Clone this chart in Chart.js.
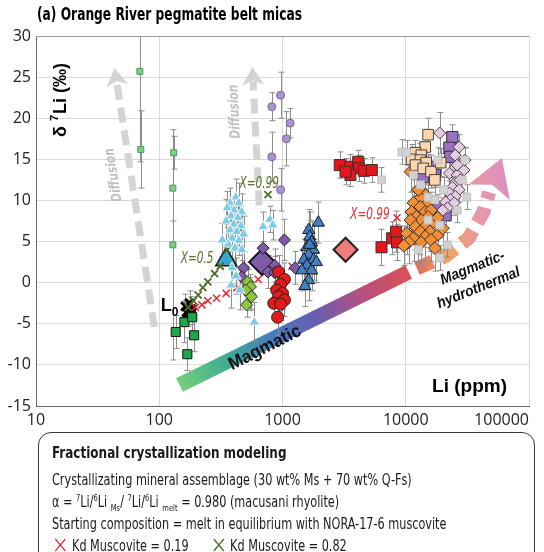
<!DOCTYPE html>
<html>
<head>
<meta charset="utf-8">
<script src="https://cdn.jsdelivr.net/npm/chart.js@4.4.1/dist/chart.umd.min.js"></script>
<style>
html, body { margin: 0; padding: 0; background: #fff; overflow: hidden; }
#wrap { position: relative; width: 544px; height: 552px; overflow: hidden; }
#note {
  position: absolute; left: 38px; top: 432px; width: 497px; height: 140px;
  border: 1.5px solid #3a3a3a; border-radius: 13px; box-sizing: border-box;
  padding: 8px 0 0 13px; color: #1a1a1a; overflow: hidden;
  font-family: 'DejaVu Sans Condensed', 'Liberation Sans', sans-serif; font-size: 15px;
}
#note .txt { width: 600px; transform: scaleX(0.834); transform-origin: 0 0; }
#note .txt div { line-height: 22px; white-space: nowrap; }
#note .hd { font-weight: bold; font-size: 16px; line-height: 24px !important; margin-bottom: 4px; }
#note sup, #note sub { font-size: 9px; line-height: 0; }
#note svg { vertical-align: -1px; margin: 0 7px 0 3px; }
</style>
</head>
<body>
<div id="wrap">
  <canvas id="micaChart" width="544" height="552"></canvas>
  <div id="note">
    <div class="txt">
      <div class="hd">Fractional crystallization modeling</div>
      <div>Crystallizating mineral assemblage (30 wt% Ms + 70 wt% Q-Fs)</div>
      <div>α = <sup>7</sup>Li/<sup>6</sup>Li <sub>Ms</sub>/ <sup>7</sup>Li/<sup>6</sup>Li <sub>melt</sub> = 0.980 (macusani rhyolite)</div>
      <div>Starting composition = melt in equilibrium with NORA-17-6 muscovite</div>
      <div><svg width="14" height="14"><path d="M1 1L13 13M13 1L1 13" stroke="#e8262b" stroke-width="1.4"/></svg>Kd Muscovite = 0.19 &nbsp;&nbsp;&nbsp;&nbsp;&nbsp;<svg width="14" height="14"><path d="M1 1L13 13M13 1L1 13" stroke="#4f6b2a" stroke-width="1.7"/></svg>Kd Muscovite = 0.82</div>
    </div>
  </div>
</div>
<script>
// Axis ticks
const xTicks = [10, 100, 1000, 10000, 100000];
const yTicks = [-15, -10, -5, 0, 5, 10, 15, 20, 25, 30];

// Li (ppm), d7Li (permil) and 1-sigma error for each group of micas
const paleGreenLi = [69.6, 70.9, 131, 129, 129];
const paleGreenD = [25.7, 16.2, 15.8, 11.5, 4.6];
const paleGreenErr = [11, 4.7, 2, 4, 14];

const greenSqLi = [136, 160, 192, 169, 185];
const greenSqD = [-6.0, -4.8, -6.4, -8.7, -4.2];
const greenSqErr = [2, 2.5, 2, 2, 2];

const startLi = [163, 182, 172, 185, 166, 176];
const startD = [-2.9, -3.2, -3.8, -3.6, -3.6, -2.5];
const startErr = [1.5, 1.5, 1.5, 1.5, 1.5, 1.5];

const cyanLi = [419, 376, 442, 356, 404, 467, 383, 434, 349, 404, 459, 376, 427, 484, 390, 442, 362, 411, 467, 390, 419, 383, 696, 790, 834, 591, 450, 325];
const cyanD = [10.4, 9.7, 9.7, 9.1, 8.8, 8.6, 8.1, 7.9, 7.5, 7.1, 6.9, 6.4, 6.2, 5.9, 5.4, 5.1, 4.7, 4.2, 4.0, 1.8, 0.8, -0.3, 6.8, 7.7, 7.0, -4.8, -0.9, 5.2];
const cyanErr = [2.2, 1.8, 2.4, 2, 1.6, 2.2, 2, 1.8, 2.6, 2, 2.4, 1.8, 2, 2.2, 2.6, 1.8, 2, 2.2, 2.4, 2, 2.2, 2.8, 1.8, 1.6, 1.8, 2.4, 2.4, 2];

const cyanBigLi = [349];
const cyanBigD = [2.8];

const lilacLi = [965, 819, 1156, 1075, 819, 965];
const lilacD = [22.8, 21.4, 19.4, 17.5, 15.3, 11.3];
const lilacErr = [2.8, 1.7, 1.8, 3.3, 3, 2.6];

const purpleDiaLi = [484, 467, 540, 1037, 696, 762, 865, 865, 1266];
const purpleDiaD = [1.8, 0.7, -1.4, 5.2, 4.2, 1.3, 2.1, 1.2, 1.8];
const purpleDiaErr = [2, 2, 2, 2.5, 2.5, 2, 2, 2, 2];

const purpleBigLi = [683];
const purpleBigD = [2.5];

const limeLi = [521, 550, 502, 511, 560];
const limeD = [0.1, -0.5, -0.9, -2.7, -1.7];
const limeErr = [1.5, 1.5, 1.5, 1.5, 1.5];

const redCircLi = [930, 1037, 965, 897, 1000, 930, 1037, 850, 965, 913];
const redCircD = [1.3, 0.4, -0.2, -0.9, -1.3, -1.7, -2.1, -2.5, -2.6, -4.2];
const redCircErr = [2, 2, 1.8, 2, 2, 1.8, 2, 2, 2, 2.2];

const blueLi = [1632, 1956, 1662, 1723, 1574, 1786, 1632, 1490, 1786, 1574, 1723, 1437, 1632, 1518, 1886, 1662];
const blueD = [6.4, 7.3, 5.6, 4.9, 4.3, 4.0, 3.4, 2.8, 2.8, 2.1, 1.5, 1.5, 0.3, -0.4, 2.5, 4.6];
const blueErr = [2.5, 2.5, 3, 2.5, 2.5, 3, 2.5, 2.5, 2.5, 3, 2.5, 2.5, 2.5, 2.5, 2.5, 3];

const salmonLi = [3250];
const salmonD = [4.0];

const redSqLi = [2915, 3558, 4114, 4188, 4586, 5302, 3558, 3250, 6356, 7758, 8343, 8496];
const redSqD = [14.3, 14.1, 14.7, 13.9, 13.6, 13.7, 13.1, 13.5, 4.3, 5.4, 6.2, 4.9];
const redSqErr = [1.6, 1.5, 1.4, 1.6, 1.5, 1.5, 1.4, 1.6, 2.2, 2, 2.5, 2.2];

const greySqLi = [9300, 10180, 18190, 30230, 28620, 31340, 15180, 13130, 15180, 18870, 17230, 20290, 11560, 21810, 18870, 6356, 26140, 12660];
const greySqD = [15.9, 15.8, 14.9, 14.9, 12.5, 10.4, 10.4, 11.9, 7.6, 7.0, 10.1, 11.3, 13.1, 4.6, 3.0, 12.5, 8.8, 4.0];
const greySqErr = [1.5, 1.5, 1.5, 1.5, 1.5, 1.5, 1.5, 1.5, 1.5, 1.5, 1.5, 1.5, 1.5, 1.5, 1.5, 1.5, 1.5, 1.5];

const peachLi = [15180, 14380, 11990, 13370, 11150, 13130, 14640, 11990, 13860, 16030, 19210, 17230];
const peachD = [18.0, 16.5, 15.8, 15.5, 15.0, 14.9, 14.6, 14.3, 13.9, 13.5, 14.6, 12.5];
const peachErr = [2, 1.8, 1.5, 1.6, 1.8, 2, 1.6, 1.5, 1.8, 2, 1.7, 1.9];

const violetSqLi = [23880, 22610, 23020, 15180, 13860, 17230, 18190, 21030];
const violetSqD = [17.7, 16.4, 15.3, 14.1, 12.9, 13.1, 9.2, 8.2];
const violetSqErr = [1.5, 1.5, 1.5, 1.5, 1.5, 1.5, 1.5, 1.5];

const pinkLi = [18870, 27110, 25210, 29680, 22610, 26140, 25210, 27600, 23880, 27110, 22610, 25210, 23020, 21030, 24760, 21810, 19920, 30230, 26140];
const pinkD = [18.2, 16.5, 15.5, 13.7, 13.3, 13.1, 12.2, 12.5, 11.6, 11.3, 10.9, 10.5, 10.1, 9.8, 9.7, 9.1, 8.8, 14.9, 14.3];
const pinkErr = [2.5, 1.5, 1.5, 1.5, 1.5, 1.5, 1.5, 1.5, 1.5, 1.5, 1.5, 1.5, 1.5, 1.5, 1.5, 1.5, 1.5, 1.5, 1.5];

const orangeLi = [10950, 14380, 13130, 11560, 15180, 13130, 11150, 14380, 16030, 12210, 15180, 13370, 10950, 16620, 11990, 14380, 10180, 13130, 15740, 18190, 11560, 14380, 13370, 10560, 16030, 17230, 9645, 12660, 18190, 19920];
const orangeD = [13.5, 10.7, 10.3, 9.7, 9.7, 9.2, 8.6, 8.6, 8.8, 8.0, 8.0, 7.6, 7.6, 7.3, 6.8, 6.8, 6.0, 6.2, 6.2, 5.8, 5.4, 5.6, 4.9, 4.9, 5.2, 4.2, 4.5, 11.3, 7.9, 6.6];
const orangeErr = [2.5, 2.2, 2.5, 2.8, 2.4, 2.6, 2.5, 2.8, 2.2, 2.6, 2.5, 2.8, 2.4, 2.6, 2.8, 2.5, 2.6, 2.8, 2.4, 2.6, 2.8, 3, 2.8, 2.6, 2.6, 2.8, 2.4, 2.2, 2.5, 2.6];

// Fractional crystallization model steps
const modelLowLi = [196, 222, 248, 292, 349, 427, 511, 636, 1199, 8496];
const modelLowD = [-3.0, -2.7, -2.2, -1.9, -1.3, -0.6, 0.0, 0.4, 2.0, 7.9];
const modelHighLi = [172, 189, 207, 226, 248, 281, 313, 356, 467, 762];
const modelHighD = [-3.0, -2.2, -1.5, -0.6, 0.1, 1.1, 2.0, 4.0, 6.3, 10.7];

// Trend arrows (Li, d7Li anchors)
const magmaticLi = [146, 10560];
const magmaticD = [-12.45, 1.3];
const hydroLi = [10560, 21030, 32500, 42650, 47560, 60200];
const hydroD = [1.3, 3.24, 5.43, 8.6, 11.0, 15.16];
const diffusionA = { li: [91.3, 43.4], d: [-5.4, 26.1] };
const diffusionB = { li: [647, 570], d: [9.4, 26.2] };

const COND = "'DejaVu Sans Condensed', 'Liberation Sans', sans-serif";
const SANS = "'Liberation Sans', Arial, sans-serif";

const pts = (li, d) => li.map((v, i) => ({ x: v, y: d[i] }));

function series(label, li, d, err, style) {
  return Object.assign({
    label, data: pts(li, d), errors: err, showLine: false,
    pointBorderWidth: 1, pointHoverRadius: 0
  }, style);
}

const datasets = [
  series('grey', greySqLi, greySqD, greySqErr, { pointStyle: 'rect', pointRadius: 5.5, pointBackgroundColor: '#d2d2d2', pointBorderColor: '#c2c2c2' }),
  series('paleGreen', paleGreenLi, paleGreenD, paleGreenErr, { pointStyle: 'rect', pointRadius: 4.2, pointBackgroundColor: '#7ccf86', pointBorderColor: '#4a9a55' }),
  series('lilac', lilacLi, lilacD, lilacErr, { pointStyle: 'circle', pointRadius: 4, pointBackgroundColor: '#a995cc', pointBorderColor: '#7b68a2' }),
  series('cyan', cyanLi, cyanD, cyanErr, { pointStyle: 'triangle', pointRadius: 6, pointBackgroundColor: '#7ecbe6', pointBorderColor: '#f4fbfe' }),
  series('blue', blueLi, blueD, blueErr, { pointStyle: 'triangle', pointRadius: 7, pointBackgroundColor: '#3f7fc6', pointBorderColor: '#1a1a1a' }),
  series('redCircle', redCircLi, redCircD, redCircErr, { pointStyle: 'circle', pointRadius: 6, pointBackgroundColor: '#e31a1c', pointBorderColor: '#222' }),
  series('lime', limeLi, limeD, limeErr, { pointStyle: 'rectRot', pointRadius: 6, pointBackgroundColor: '#8cc63f', pointBorderColor: '#333' }),
  series('purpleDia', purpleDiaLi, purpleDiaD, purpleDiaErr, { pointStyle: 'rectRot', pointRadius: 6, pointBackgroundColor: '#7d5ba6', pointBorderColor: '#222' }),
  series('peach', peachLi, peachD, peachErr, { pointStyle: 'rect', pointRadius: 7.5, pointBackgroundColor: '#fdd6ac', pointBorderColor: '#444' }),
  series('orange', orangeLi, orangeD, orangeErr, { pointStyle: 'rectRot', pointRadius: 6.5, pointBackgroundColor: '#f28e34', pointBorderColor: '#333' }),
  series('pink', pinkLi, pinkD, pinkErr, { pointStyle: 'rectRot', pointRadius: 6, pointBackgroundColor: '#e5cbe3', pointBorderColor: '#444' }),
  series('violetSq', violetSqLi, violetSqD, violetSqErr, { pointStyle: 'rect', pointRadius: 8, pointBackgroundColor: '#9b6fc2', pointBorderColor: '#333' }),
  series('redSq', redSqLi, redSqD, redSqErr, { pointStyle: 'rect', pointRadius: 7.8, pointBackgroundColor: '#e8151b', pointBorderColor: '#333' }),
  series('greenSq', greenSqLi, greenSqD, greenSqErr, { pointStyle: 'rect', pointRadius: 6.4, pointBackgroundColor: '#1fa84a', pointBorderColor: '#111' }),
  series('modelLow', modelLowLi, modelLowD, null, { pointStyle: 'crossRot', pointRadius: 5, pointBorderColor: '#e8262b', pointBorderWidth: 1.5 }),
  series('modelHigh', modelHighLi, modelHighD, null, { pointStyle: 'crossRot', pointRadius: 5, pointBorderColor: '#4f6b2a', pointBorderWidth: 1.8 }),
  series('start', startLi, startD, startErr, { pointStyle: 'crossRot', pointRadius: 6, pointBorderColor: '#000', pointBorderWidth: 3 }),
  series('cyanBig', cyanBigLi, cyanBigD, null, { pointStyle: 'triangle', pointRadius: 12, pointBackgroundColor: '#35aacc', pointBorderColor: '#111', pointBorderWidth: 1.5 }),
  series('purpleBig', purpleBigLi, purpleBigD, null, { pointStyle: 'rectRot', pointRadius: 13, pointBackgroundColor: '#7d5ba6', pointBorderColor: '#111', pointBorderWidth: 2 }),
  series('salmon', salmonLi, salmonD, null, { pointStyle: 'rectRot', pointRadius: 12, pointBackgroundColor: '#f07c7c', pointBorderColor: '#222', pointBorderWidth: 2 })
];

function arrowHead(ctx, bx, by, tx, ty, hw, notch) {
  const len = Math.hypot(tx - bx, ty - by);
  const ux = (tx - bx) / len, uy = (ty - by) / len;
  const nx = -uy, ny = ux;
  ctx.beginPath();
  ctx.moveTo(tx, ty);
  ctx.lineTo(bx + nx * hw, by + ny * hw);
  ctx.lineTo(bx + ux * notch, by + uy * notch);
  ctx.lineTo(bx - nx * hw, by - ny * hw);
  ctx.closePath();
  ctx.fill();
}

// text drawn rotated and squeezed horizontally (condensed look)
function rotText(ctx, text, x, y, deg, font, color, squeeze = 1, align = 'center') {
  ctx.save();
  ctx.translate(x, y);
  ctx.rotate(deg * Math.PI / 180);
  ctx.scale(squeeze, 1);
  ctx.font = font;
  ctx.fillStyle = color;
  ctx.textAlign = align;
  ctx.textBaseline = 'middle';
  ctx.fillText(text, 0, 0);
  ctx.restore();
}

// dashed grey arrow with a notched head
function diffusionArrow(ctx, sx, sy, tail, label) {
  const x0 = sx.getPixelForValue(tail.li[0]), y0 = sy.getPixelForValue(tail.d[0]);
  const x1 = sx.getPixelForValue(tail.li[1]), y1 = sy.getPixelForValue(tail.d[1]);
  const len = Math.hypot(x1 - x0, y1 - y0);
  const ux = (x1 - x0) / len, uy = (y1 - y0) / len;
  const bx = x1 - ux * 18, by = y1 - uy * 18;
  ctx.save();
  ctx.strokeStyle = '#d4d4d4';
  ctx.fillStyle = '#d4d4d4';
  ctx.lineWidth = 7;
  ctx.setLineDash([15, 8]);
  ctx.beginPath();
  ctx.moveTo(x0, y0);
  ctx.lineTo(bx + ux * 4, by + uy * 4);
  ctx.stroke();
  ctx.setLineDash([]);
  arrowHead(ctx, bx, by, x1, y1, 11, 5);
  const ang = Math.atan2(uy, ux) * 180 / Math.PI;
  rotText(ctx, 'Diffusion', sx.getPixelForValue(label.li), sy.getPixelForValue(label.d), ang,
    `italic bold 14px ${COND}`, '#c2c2c2', 0.85);
  ctx.restore();
}

const backdrop = {
  id: 'backdrop',
  beforeDatasetsDraw(chart) {
    const { ctx, scales: { x, y } } = chart;
    diffusionArrow(ctx, x, y, diffusionA, { li: 42.7, d: 13.1 });
    diffusionArrow(ctx, x, y, diffusionB, { li: 411, d: 20.8 });

    // magmatic band
    const p0 = [x.getPixelForValue(magmaticLi[0]), y.getPixelForValue(magmaticD[0])];
    const p1 = [x.getPixelForValue(magmaticLi[1]), y.getPixelForValue(magmaticD[1])];
    ctx.save();
    const g = ctx.createLinearGradient(p0[0], p0[1], p1[0], p1[1]);
    g.addColorStop(0, '#74d07a');
    g.addColorStop(0.22, '#3caa94');
    g.addColorStop(0.42, '#4879c2');
    g.addColorStop(0.6, '#6a5cb0');
    g.addColorStop(0.8, '#b5507f');
    g.addColorStop(1, '#dc5054');
    ctx.strokeStyle = g;
    ctx.lineWidth = 15;
    ctx.beginPath();
    ctx.moveTo(p0[0], p0[1]);
    ctx.lineTo(p1[0], p1[1]);
    ctx.stroke();

    // magmatic-hydrothermal dashed continuation
    const hp = hydroLi.map((v, i) => [x.getPixelForValue(v), y.getPixelForValue(hydroD[i])]);
    const tip = hp[hp.length - 1], base = hp[hp.length - 2];
    const g2 = ctx.createLinearGradient(hp[0][0], 0, tip[0] + 15, 0);
    g2.addColorStop(0, '#d9605e');
    g2.addColorStop(0.35, '#f2a35e');
    g2.addColorStop(0.7, '#e595b0');
    g2.addColorStop(1, '#d58fc6');
    ctx.strokeStyle = g2;
    ctx.fillStyle = g2;
    ctx.lineWidth = 14;
    ctx.setLineDash([17, 9]);
    ctx.lineDashOffset = 17;
    ctx.beginPath();
    ctx.moveTo(hp[0][0], hp[0][1]);
    for (let i = 1; i < hp.length - 1; i++) ctx.lineTo(hp[i][0], hp[i][1]);
    ctx.stroke();
    ctx.setLineDash([]);
    arrowHead(ctx, base[0], base[1], tip[0], tip[1], 22, 8);
    ctx.restore();
  }
};

const errorBars = {
  id: 'errorBars',
  beforeDatasetsDraw(chart) {
    const { ctx, chartArea: a, scales: { x, y } } = chart;
    ctx.save();
    ctx.beginPath();
    ctx.rect(a.left, a.top, a.right - a.left, a.bottom - a.top);
    ctx.clip();
    ctx.strokeStyle = '#8c8c8c';
    ctx.lineWidth = 1;
    chart.data.datasets.forEach(ds => {
      if (!ds.errors) return;
      ds.data.forEach((p, i) => {
        const e = ds.errors[i];
        const px = Math.round(x.getPixelForValue(p.x)) + 0.5;
        const top = y.getPixelForValue(p.y + e), bot = y.getPixelForValue(p.y - e);
        ctx.beginPath();
        ctx.moveTo(px, top); ctx.lineTo(px, bot);
        ctx.moveTo(px - 3, top); ctx.lineTo(px + 3, top);
        ctx.moveTo(px - 3, bot); ctx.lineTo(px + 3, bot);
        ctx.stroke();
      });
    });
    ctx.restore();
  }
};

const labels = {
  id: 'labels',
  afterDatasetsDraw(chart) {
    const { ctx, chartArea: a, scales: { x, y } } = chart;
    const at = (li, d) => [x.getPixelForValue(li), y.getPixelForValue(d)];

    // top edge of the plot frame
    ctx.save();
    ctx.strokeStyle = '#9a9a9a';
    ctx.lineWidth = 1;
    ctx.beginPath();
    ctx.moveTo(a.left, a.top + 0.5);
    ctx.lineTo(a.right, a.top + 0.5);
    ctx.stroke();
    ctx.restore();

    let p = at(721, -7.95);
    rotText(ctx, 'Magmatic', p[0], p[1], -27, `bold 18px ${SANS}`, '#111', 0.95);
    p = at(34900, 1.78);
    rotText(ctx, 'Magmatic-', p[0], p[1], -22, `italic bold 15px ${SANS}`, '#111', 0.92);
    p = at(39000, -0.65);
    rotText(ctx, 'hydrothermal', p[0], p[1], -22, `italic bold 15px ${SANS}`, '#111', 0.92);

    p = at(203, 2.9);
    rotText(ctx, 'X=0.5', p[0], p[1], 0, `italic 15px ${COND}`, '#5b7030', 0.78);
    p = at(647, 12.0);
    rotText(ctx, 'X=0.99', p[0], p[1], 0, `italic 15px ${COND}`, '#5b7030', 0.78);
    p = at(5120, 8.2);
    rotText(ctx, 'X=0.99', p[0], p[1], 0, `italic 15px ${COND}`, '#e0333a', 0.78);

    // L0 marker label
    p = at(124, -2.8);
    ctx.save();
    ctx.fillStyle = '#000';
    ctx.textBaseline = 'middle';
    ctx.font = `bold 18px ${SANS}`;
    ctx.textAlign = 'right';
    ctx.fillText('L', p[0] + 1, p[1]);
    ctx.font = `bold 12px ${SANS}`;
    ctx.textAlign = 'left';
    ctx.fillText('0', p[0] + 1, p[1] + 7);
    ctx.restore();

    // axis titles drawn inside the plot
    ctx.save();
    ctx.fillStyle = '#000';
    ctx.textBaseline = 'middle';
    const big = `bold 18px ${SANS}`, small = `bold 11px ${SANS}`;
    ctx.font = big;
    const w1 = ctx.measureText('δ ').width;
    ctx.font = small;
    const w2 = ctx.measureText('7').width;
    ctx.translate(a.left + 25, a.top + 101);
    ctx.rotate(-Math.PI / 2);
    ctx.font = big;
    ctx.fillText('δ ', 0, 0);
    ctx.font = small;
    ctx.fillText('7', w1, -6);
    ctx.font = big;
    ctx.fillText('Li (‰)', w1 + w2 + 1, 0);
    ctx.restore();

    ctx.save();
    ctx.fillStyle = '#000';
    ctx.font = `bold 19px ${SANS}`;
    ctx.textAlign = 'right';
    ctx.textBaseline = 'middle';
    ctx.fillText('Li (ppm)', a.right - 22, a.bottom - 19);
    ctx.restore();
    rotText(ctx, '(a) Orange River pegmatite belt micas', a.left + 1, 16, 0,
      `bold 17px ${COND}`, '#000', 0.8, 'left');
  }
};

const tickFont = { family: "'Open Sans', 'Noto Sans', sans-serif", size: 16 };
// the last decade label sits inside the page edge
const xLabel = v => v === 100000 ? '100000' + '\u2007'.repeat(6) : String(v);

new Chart(document.getElementById('micaChart'), {
  type: 'scatter',
  data: { datasets },
  plugins: [backdrop, errorBars, labels],
  options: {
    responsive: false,
    devicePixelRatio: 1,
    animation: false,
    layout: { padding: { top: 36, right: 0, bottom: 0, left: 0 } },
    plugins: { legend: { display: false }, tooltip: { enabled: false }, title: { display: false } },
    scales: {
      x: {
        type: 'logarithmic', min: 10, max: 100000,
        afterBuildTicks: s => { s.ticks = xTicks.map(v => ({ value: v })); },
        afterFit: s => { s.height = 146; s.paddingLeft = 0; s.paddingRight = 0; },
        ticks: { callback: xLabel, font: tickFont, color: '#222', padding: 5, maxRotation: 0, autoSkip: false },
        grid: { color: '#dadada', drawTicks: false },
        border: { color: '#666' }
      },
      y: {
        min: -15, max: 30,
        afterBuildTicks: s => { s.ticks = yTicks.map(v => ({ value: v })); },
        afterFit: s => { s.width = 36; s.paddingTop = 0; s.paddingBottom = 0; },
        ticks: { font: tickFont, color: '#222', padding: 5 },
        grid: { color: '#dadada', drawTicks: false },
        border: { color: '#666' }
      }
    }
  }
});
</script>
</body>
</html>
